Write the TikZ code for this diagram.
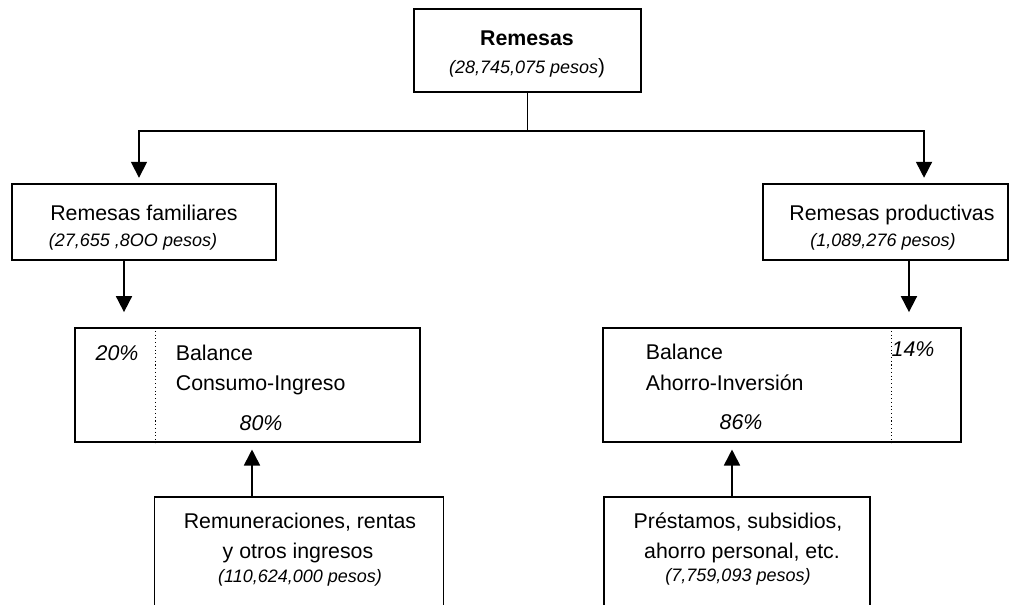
\documentclass[tikz,border=0pt]{standalone}
\usepackage{fontspec}
\setmainfont{Liberation Sans}
\usetikzlibrary{arrows.meta,positioning}

\begin{document}
\begin{tikzpicture}[
    x = 0.75pt, y = -0.75pt, %
    > = {Triangle[width=12pt,length=12pt]}, %
    line width = 1.3pt %
    ]

    \tikzset{box/.style={
    draw = black,
    line width = 1.3pt,
    minimum width = #1,
    inner sep = 0pt
    },
    txt/.style={
    inner sep = 0pt,
    text height = 0.72em,
    text depth = 0.2em,
    font = \fontsize{16pt}{19pt}\selectfont
    },
    cifra/.style={
    txt,
    font = \fontsize{13.5pt}{16pt}\selectfont\itshape
    },
    pct/.style={
    txt,
    font = \fontsize{16pt}{19pt}\selectfont\itshape
    }
    }

    \clip (0,0) rectangle (1010,605);

    % cajas
    \node[box=170.25pt, minimum height=62.25pt] (rem)  at (527.5,50.5) {};
    \node[box=198pt,    minimum height=57pt]    (fam)  at (144,222)    {};
    \node[box=183.75pt, minimum height=57pt]    (prod) at (885.5,222)  {};
    \node[box=258.75pt, minimum height=85.5pt]  (bci)  at (247.5,385)  {};
    \node[box=268.5pt,  minimum height=85.5pt]  (bai)  at (782,385)    {};
    \node[box=216.75pt, minimum height=114.75pt] (ing) at (299,573.5)  {};
    \node[box=199.5pt,  minimum height=114.75pt] (pre) at (737,573.5)  {};

    % textos
    \node[txt, font=\fontsize{16pt}{19pt}\selectfont\bfseries] (rem1) at (527,42) {Remesas};
    \node[cifra] (rem2) at (527,70) {(28,745,075 pesos\upshape\fontsize{15.5pt}{18pt}\selectfont)};

    \node[txt]   (fam1) at (144,217) {Remesas familiares};
    \node[cifra] (fam2) at (133,243) {(27,655 ,8OO pesos)};

    \node[txt]   (prod1) at (892,217) {Remesas productivas};
    \node[cifra] (prod2) at (883,243) {(1,089,276 pesos)};

    \node[pct] (bci0) at (117,357) {20\%};
    \node[txt, anchor=west] (bci1) at (175,357) {Balance};
    \node[txt, anchor=west] (bci2) at (175,387) {Consumo-Ingreso};
    \node[pct] (bci3) at (261,427) {80\%};

    \node[pct] (bai0) at (913,353) {14\%};
    \node[txt, anchor=west] (bai1) at (645,356) {Balance};
    \node[txt, anchor=west] (bai2) at (645,387) {Ahorro-Inversión};
    \node[pct] (bai3) at (741,426) {86\%};

    \node[txt]   (ing1) at (300,525) {Remuneraciones, rentas};
    \node[txt]   (ing2) at (298,555) {y otros ingresos};
    \node[cifra] (ing3) at (300,579) {(110,624,000 pesos)};

    \node[txt]   (pre1) at (738,525) {Préstamos, subsidios,};
    \node[txt]   (pre2) at (742,555) {ahorro personal, etc.};
    \node[cifra] (pre3) at (738,578) {(7,759,093 pesos)};

    % separaciones punteadas
    \draw[dotted, line width=0.8pt] ([xshift=60.75pt]bci.north west) -- ([xshift=60.75pt]bci.south west);
    \draw[dotted, line width=0.8pt] ([xshift=216.75pt]bai.north west) -- ([xshift=216.75pt]bai.south west);

    % conectores
    \coordinate (split) at (527,131);
    \draw (rem.south) -- (rem.south |- split);
    \draw[->, shorten > = 4pt] (split) -| ([xshift=-3.75pt]fam.north);
    \draw[->, shorten > = 4pt] (split) -| ([xshift=28.9pt]prod.north);

    \draw[->, shorten > = 11.25pt] ([xshift=-15pt]fam.south) -- ([xshift=-15pt]fam.south |- bci.north);
    \draw[->, shorten > = 11.25pt] ([xshift=17.6pt]prod.south) -- ([xshift=17.6pt]prod.south |- bai.north);

    \draw[->, shorten > = 5pt] ([xshift=-35.25pt]ing.north) -- ([xshift=-35.25pt]ing.north |- bci.south);
    \draw[->, shorten > = 5pt] ([xshift=-3.75pt]pre.north) -- ([xshift=-3.75pt]pre.north |- bai.south);

    \end{tikzpicture}
\end{document}
